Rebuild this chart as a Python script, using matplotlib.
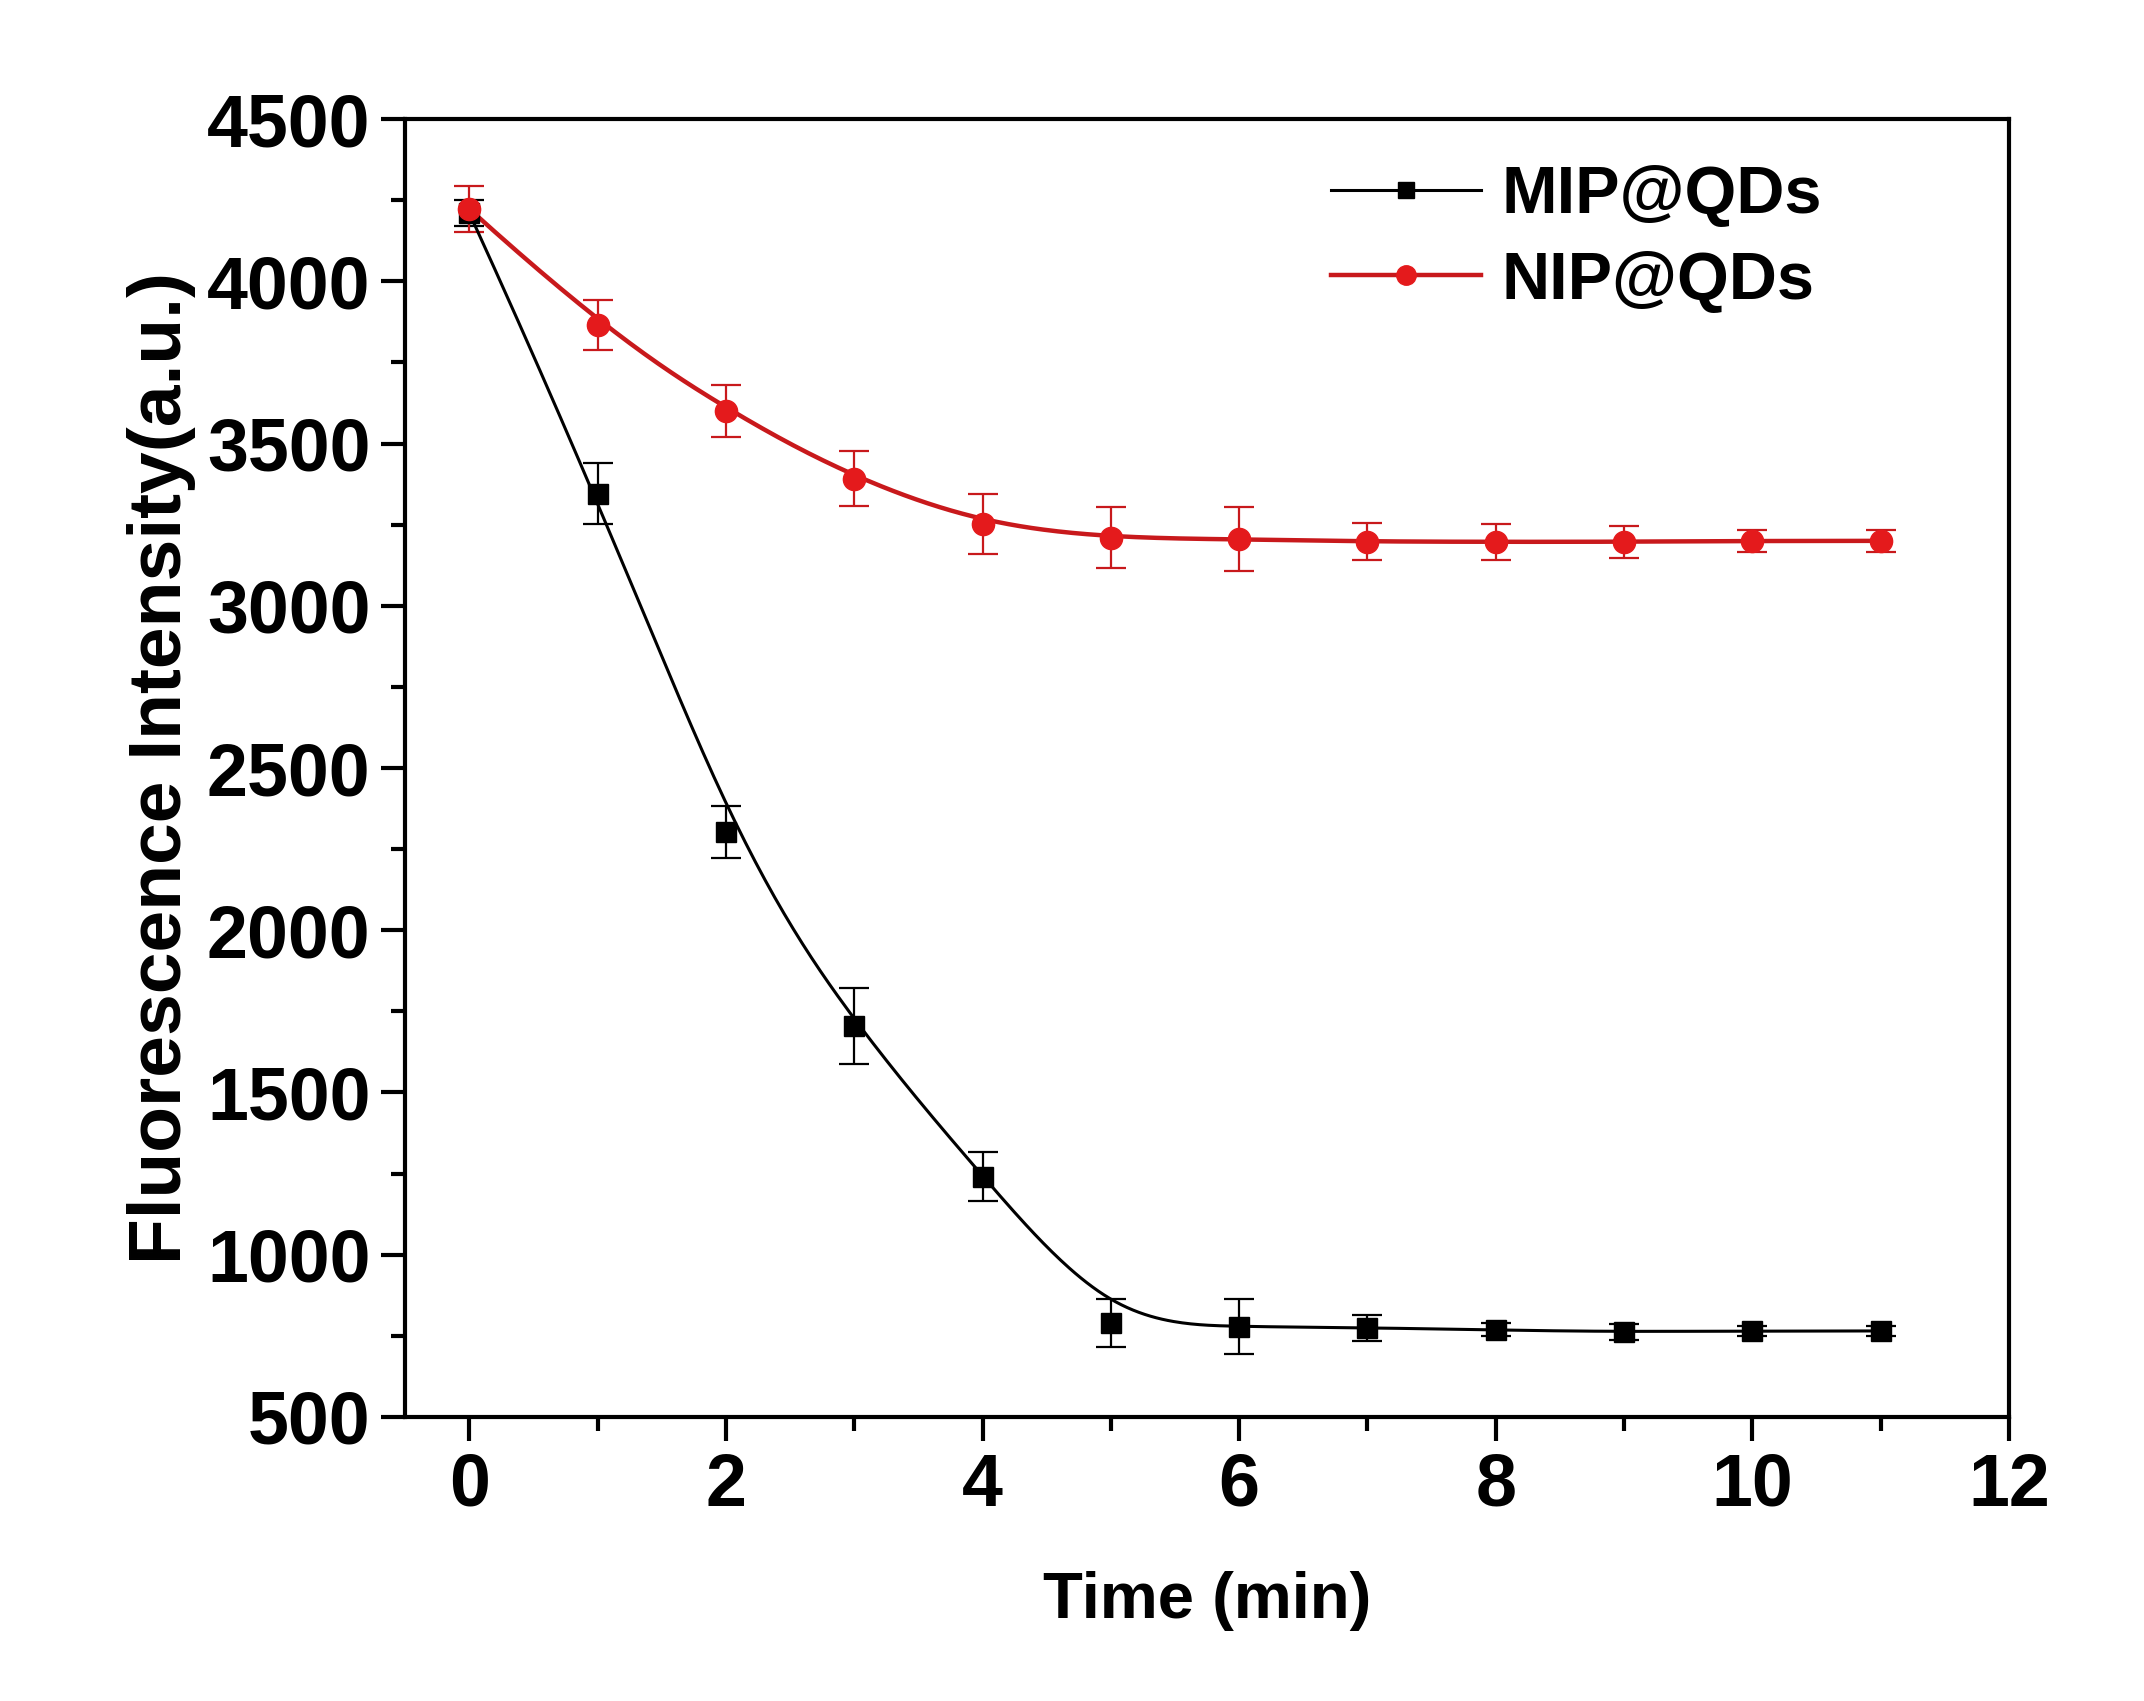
import numpy as np
import matplotlib
matplotlib.use("Agg")
import matplotlib.pyplot as plt
from matplotlib.ticker import MultipleLocator

time_min = [0, 1, 2, 3, 4, 5, 6, 7, 8, 9, 10, 11]
mip = [4210, 3346, 2302, 1706, 1241, 790, 778, 775, 768, 762, 765, 765]
mip_err = [40, 95, 80, 117, 75, 75, 85, 40, 20, 25, 15, 15]
nip = [4223, 3865, 3601, 3392, 3252, 3209, 3205, 3198, 3197, 3197, 3200, 3200]
nip_err = [70, 78, 80, 85, 92, 94, 98, 57, 55, 50, 35, 35]


def bspline(x, y, n=400):
    # clamped uniform cubic B-spline, data points used as control points
    px = np.asarray(x, float)
    py = np.asarray(y, float)
    k = 3
    m = len(px)
    knots = np.concatenate([np.zeros(k), np.linspace(0, 1, m - k + 1), np.ones(k)])
    t = np.linspace(0, 1, n)
    t[-1] -= 1e-9

    def basis(i, p, tt):
        if p == 0:
            return ((knots[i] <= tt) & (tt < knots[i + 1])).astype(float)
        out = np.zeros_like(tt)
        d1 = knots[i + p] - knots[i]
        d2 = knots[i + p + 1] - knots[i + 1]
        if d1 > 0:
            out += (tt - knots[i]) / d1 * basis(i, p - 1, tt)
        if d2 > 0:
            out += (knots[i + p + 1] - tt) / d2 * basis(i + 1, p - 1, tt)
        return out

    B = np.array([basis(i, k, t) for i in range(m)])
    return B.T @ px, B.T @ py


plt.rcParams['font.family'] = ['Liberation Sans', 'DejaVu Sans']
plt.rcParams['font.weight'] = 'bold'

fig = plt.figure(figsize=(21.44, 17.01), dpi=100)
ax = fig.add_axes([0.189, 0.167, 0.748, 0.763])

red = '#e41a1c'
red_line = '#c8191c'

sx, sy = bspline(time_min, mip)
ax.plot(sx, sy, color='black', lw=2.2, zorder=3)
ax.errorbar(time_min, mip, yerr=mip_err, fmt='none', ecolor='black',
            elinewidth=1.6, capsize=11, capthick=1.6, zorder=2)
ax.plot(time_min, mip, 's', color='black', ms=14, zorder=4)

sx, sy = bspline(time_min, nip)
ax.plot(sx, sy, color=red_line, lw=3.2, zorder=3)
ax.errorbar(time_min, nip, yerr=nip_err, fmt='none', ecolor=red_line,
            elinewidth=1.6, capsize=11, capthick=1.6, zorder=2)
ax.plot(time_min, nip, 'o', color=red, ms=16, zorder=4)

# legend handles
ax.plot([], [], '-s', color='black', lw=2.2, ms=12, label='MIP@QDs')
ax.plot([], [], '-o', color=red_line, mfc=red, mec=red, lw=3.2, ms=14, label='NIP@QDs')
ax.legend(loc='upper right', frameon=False, fontsize=48, handlelength=2.25,
          handletextpad=0.3, labelspacing=0.35, borderaxespad=0.0,
          bbox_to_anchor=(0.9, 0.985))

ax.set_xlim(-0.5, 12)
ax.set_ylim(500, 4500)
ax.xaxis.set_major_locator(MultipleLocator(2))
ax.xaxis.set_minor_locator(MultipleLocator(1))
ax.yaxis.set_major_locator(MultipleLocator(500))
ax.yaxis.set_minor_locator(MultipleLocator(250))
ax.tick_params(which='major', direction='out', length=17, width=3, labelsize=53, pad=8)
ax.tick_params(which='minor', direction='out', length=10, width=3)
for s in ax.spines.values():
    s.set_linewidth(3)

ax.set_xlabel('Time (min)', fontsize=47, fontweight='bold', labelpad=36)
ax.set_ylabel('Fluorescence Intensity(a.u.)', fontsize=54, fontweight='bold', labelpad=8)

fig.savefig('out.png', dpi=100)
